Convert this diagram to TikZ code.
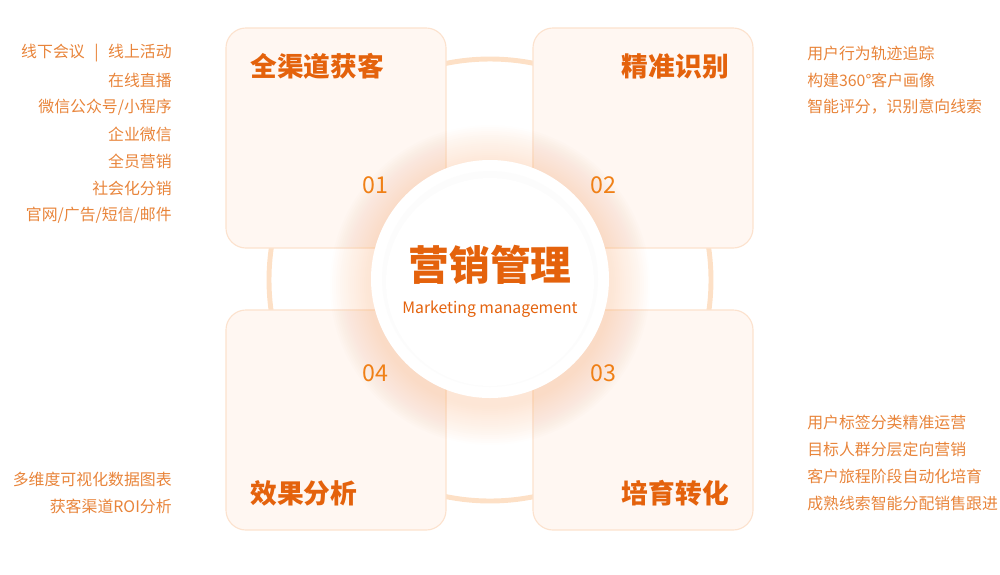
\documentclass[tikz,border=0pt]{standalone}
\usepackage{fontspec}
\setmainfont{Noto Sans CJK SC}
\usepackage{xcolor}
\usepackage{tikz}
\definecolor{titleorange}{RGB}{228,98,12}
\definecolor{numorange}{RGB}{240,128,22}
\definecolor{listorange}{RGB}{232,132,58}
\definecolor{cardfill}{RGB}{255,247,242}
\definecolor{cardline}{RGB}{252,226,206}
\definecolor{ringline}{RGB}{253,224,198}
\definecolor{glow}{RGB}{250,180,130}
\tikzstyle{card} = [draw=cardline,fill=cardfill,line width=0.8pt,rounded corners=0.5cm,minimum width=5.5cm,minimum height=5.5cm]
\tikzstyle{title} = [text=titleorange,font=\fontsize{19}{22}\selectfont\bfseries,inner sep=0pt]
\tikzstyle{num} = [text=numorange,font=\fontsize{16.5}{18}\selectfont,inner sep=0pt]
\tikzstyle{item} = [text=listorange,font=\fontsize{11.3}{13}\selectfont,inner sep=0pt]

\begin{document}
\begin{tikzpicture}[x=0.025cm,y=-0.025cm]
	\useasboundingbox (0,0) rectangle (1000,574);
	% the ring behind the four cards
	\draw[ringline,line width=3.5pt] (490,280) circle (221);

	% Cards:
	\node[card] (card1) at (336,138) {};
	\node[card] (card2) at (643,138) {};
	\node[card] (card3) at (643,420) {};
	\node[card] (card4) at (336,420) {};

	% Glow of the middle disc, made of faint circles stacked up
	\foreach \r in {0,...,19}{%
		\fill[glow,opacity=0.018] (490,285) circle (160-2*\r);
	}
	\fill[white] (490,279) circle (119);
	\fill[black!2,opacity=0.6] (490,279) circle (108);
	\fill[white] (490,282) circle (104);

	% Titles and numbers of the cards
	\node[title,anchor=west] (t1) at (250,66)  {全渠道获客};
	\node[title,anchor=east] (t2) at (729,66)  {精准识别};
	\node[title,anchor=east] (t3) at (729,493) {培育转化};
	\node[title,anchor=west] (t4) at (250,493) {效果分析};
	\node[num] (n1) at (375,185) {01};
	\node[num] (n2) at (603,185) {02};
	\node[num] (n3) at (603,373) {03};
	\node[num] (n4) at (375,373) {04};

	% Centre
	\node[text=titleorange,font=\fontsize{29}{32}\selectfont\bfseries,inner sep=0pt] (hub) at (490,265) {营销管理};
	\node[text=titleorange,font=\fontsize{11.2}{13}\selectfont,inner sep=0pt] (hubsub) at (490,309) {Marketing management};

	% Lists beside the cards:
	% left, upper one
	\foreach \t [count=\i] in {线下会议\hspace{0.6em}|\hspace{0.6em}线上活动,在线直播,微信公众号/小程序,企业微信,全员营销,社会化分销,官网/广告/短信/邮件}{%
		\node[item,anchor=east] (a\i) at (172,26+27*\i) {\t};
	}
	% right, upper one
	\foreach \t [count=\i] in {用户行为轨迹追踪,构建360°客户画像,智能评分，识别意向线索}{%
		\node[item,anchor=west] (b\i) at (807,26+27*\i) {\t};
	}
	% right, lower one
	\foreach \t [count=\i] in {用户标签分类精准运营,目标人群分层定向营销,客户旅程阶段自动化培育,成熟线索智能分配销售跟进}{%
		\node[item,anchor=west] (c\i) at (807,395+27*\i) {\t};
	}
	% left, lower one
	\foreach \t [count=\i] in {多维度可视化数据图表,获客渠道ROI分析}{%
		\node[item,anchor=east] (d\i) at (172,452+27*\i) {\t};
	}
\end{tikzpicture}
\end{document}
